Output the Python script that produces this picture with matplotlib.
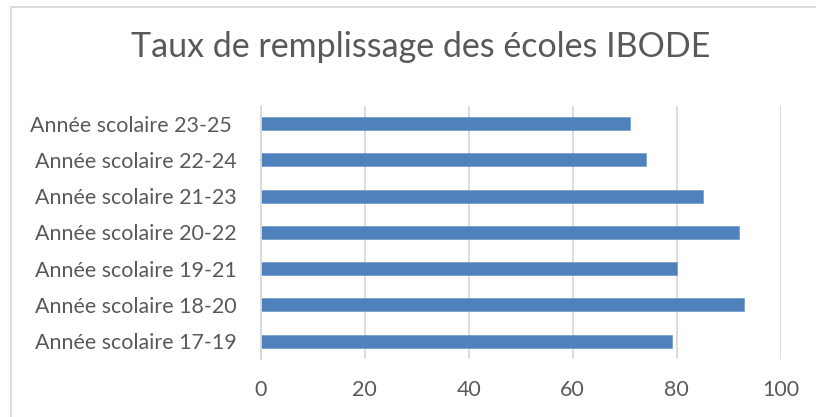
import matplotlib.pyplot as plt
from matplotlib.patches import Rectangle

plt.rcParams['font.family'] = ['Lato', 'DejaVu Sans']

annees = ["Année scolaire 17-19", "Année scolaire 18-20", "Année scolaire 19-21",
          "Année scolaire 20-22", "Année scolaire 21-23", "Année scolaire 22-24",
          "Année scolaire 23-25 "]
taux = [79, 93, 80, 92, 85, 74, 71]
graduations = [0, 20, 40, 60, 80, 100]

gris = '#595959'
grille = '#D9D9D9'

fig = plt.figure(figsize=(8.16, 4.17), dpi=100)
fig.patches.append(Rectangle((10.5 / 816, -0.1), 1.2, 1 - 6.5 / 417 + 0.1,
                             transform=fig.transFigure, fill=False,
                             edgecolor=grille, linewidth=1.3))

ax = fig.add_axes([260.7 / 816, 1 - 359.3 / 417, 520 / 816, 253.7 / 417])
pos = range(len(annees))
ax.barh(pos, taux, height=0.36, color='#4F81BD', edgecolor='#7BA0CD',
        linewidth=0.6, zorder=3)

ax.set_xlim(0, 100)
ax.set_ylim(-0.5, len(annees) - 0.5)
ax.set_xticks(graduations)
ax.set_xticklabels([str(g) for g in graduations])
ax.set_yticks(list(pos))
ax.set_yticklabels(annees)

ax.grid(axis='x', color=grille, linewidth=1.3, zorder=0)
for s in ['top', 'right', 'bottom']:
    ax.spines[s].set_visible(False)
ax.spines['left'].set_color(grille)
ax.spines['left'].set_linewidth(1.3)
ax.spines['left'].set_zorder(4)

ax.tick_params(axis='y', length=0, pad=17, labelsize=15.4, labelcolor=gris)
ax.tick_params(axis='x', length=0, pad=15, labelsize=15.4, labelcolor=gris)

fig.text(0.5155, 0.887, "Taux de remplissage des écoles IBODE", ha='center',
         va='center', fontsize=24.5, color=gris)

fig.savefig('out.png', dpi=100)
